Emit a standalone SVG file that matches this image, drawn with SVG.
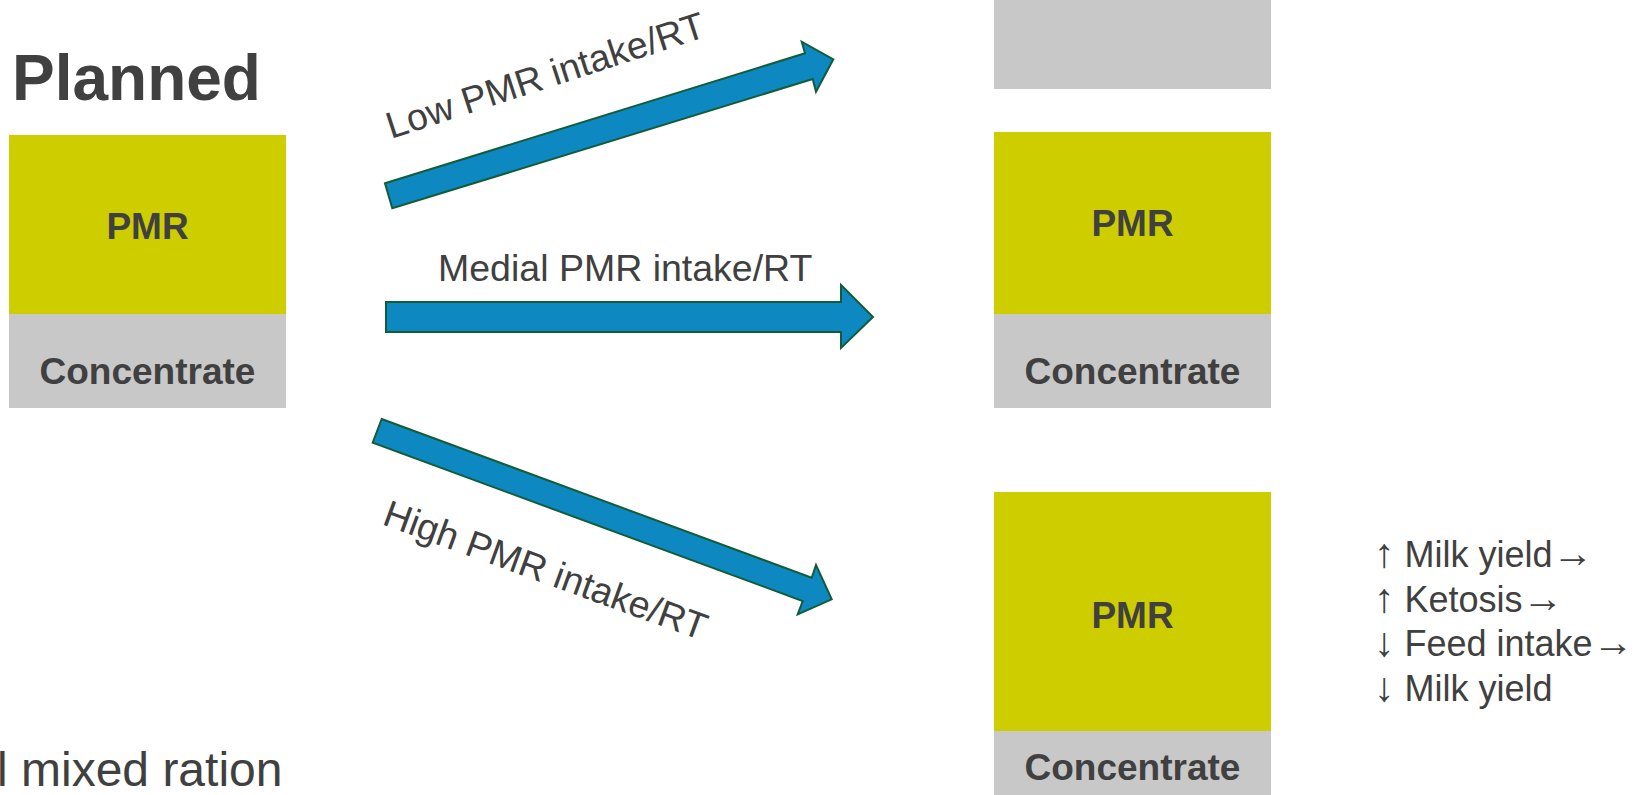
<svg xmlns="http://www.w3.org/2000/svg" width="1648" height="795" viewBox="0 0 1648 795">
  <style>
    .pmr { fill: #CDCD00; }
    .conc { fill: #C8C8C8; }
    .lbl { font-family: "Liberation Sans", Arial, sans-serif; fill: #404040; }
    .box-t { font-weight: bold; font-size: 37px; text-anchor: middle; }
    .arrow { fill: #0E88C0; stroke: #135C3A; stroke-width: 2; stroke-linejoin: miter; }
    .al { font-size: 37.5px; }
    .list { font-size: 36px; }
    .ar { font-size: 41px; }
  </style>
  <rect width="1648" height="795" fill="#FFFFFF"/>

  <!-- title -->
  <g id="title">
    <text class="lbl" x="12" y="100" font-size="64" font-weight="bold">Planned</text>
  </g>

  <!-- planned ration stack -->
  <g id="planned">
    <rect class="pmr" x="9" y="135" width="277" height="179"/>
    <rect class="conc" x="9" y="314" width="277" height="94"/>
    <text class="lbl box-t" x="147.5" y="239">PMR</text>
    <text class="lbl box-t" x="147.5" y="384">Concentrate</text>
  </g>

  <!-- low intake outcome (mostly concentrate, cut at top) -->
  <g id="low">
    <rect class="conc" x="994" y="0" width="277" height="89"/>
  </g>

  <!-- medial intake outcome -->
  <g id="medial">
    <rect class="pmr" x="994" y="132" width="277" height="182"/>
    <rect class="conc" x="994" y="314" width="277" height="94"/>
    <text class="lbl box-t" x="1132.5" y="236">PMR</text>
    <text class="lbl box-t" x="1132.5" y="384">Concentrate</text>
  </g>

  <!-- high intake outcome -->
  <g id="high">
    <rect class="pmr" x="994" y="492" width="277" height="239"/>
    <rect class="conc" x="994" y="731" width="277" height="64"/>
    <text class="lbl box-t" x="1132.5" y="628">PMR</text>
    <text class="lbl box-t" x="1132.5" y="780">Concentrate</text>
  </g>

  <!-- effects list -->
  <g id="effects" class="lbl list">
    <text x="1374" y="567"><tspan class="ar">↑</tspan> Milk yield<tspan class="ar">→</tspan></text>
    <text x="1374" y="612"><tspan class="ar">↑</tspan> Ketosis<tspan class="ar">→</tspan></text>
    <text x="1374" y="656"><tspan class="ar">↓</tspan> Feed intake<tspan class="ar">→</tspan></text>
    <text x="1374" y="701"><tspan class="ar">↓</tspan> Milk yield</text>
  </g>

  <!-- footer caption, partly off the left edge -->
  <g id="caption">
    <text class="lbl" x="-3" y="786" font-size="48">l mixed ration</text>
  </g>

  <!-- connectors -->
  <g id="connectors">
    <polygon class="arrow" points="385,183.3 805,53.3 801.7,41.7 833.3,59.3 816,91.7 812.7,79 392.3,208.3"/>
    <polygon class="arrow" points="386,302 841,302 841,285 873,317 841,348 841,332 386,332"/>
    <polygon class="arrow" points="381.7,419 811.7,577.7 816,565 831.7,599.3 797.7,614.3 802.7,601 372.7,442.7"/>
    <text class="lbl al" transform="translate(391,139) rotate(-18)">Low PMR intake/RT</text>
    <text class="lbl al" x="438" y="281">Medial PMR intake/RT</text>
    <text class="lbl al" transform="translate(381,524) rotate(20)">High PMR intake/RT</text>
  </g>
</svg>
